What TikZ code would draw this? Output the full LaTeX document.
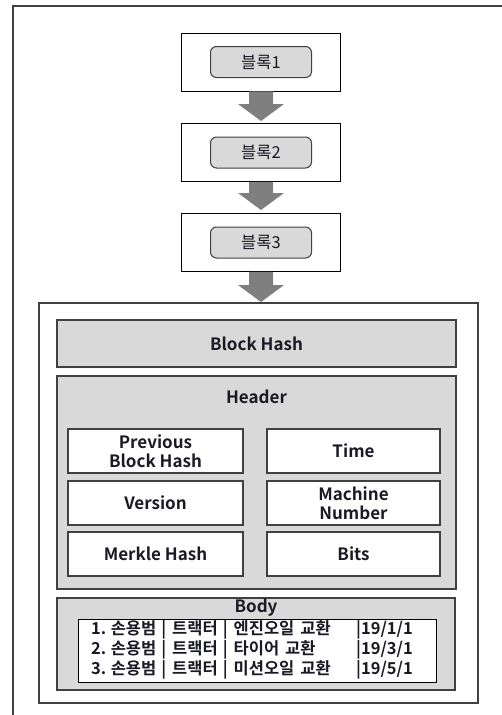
\documentclass[tikz,border=0pt]{standalone}
\usepackage{fontspec}
\setmainfont{Noto Sans CJK KR}[BoldFont={Noto Sans CJK KR Bold}]
\usetikzlibrary{calc}
\definecolor{boxgray}{HTML}{D9D9D9}
\definecolor{arrowgray}{HTML}{7F7F7F}
\definecolor{edgegray}{HTML}{404040}
\definecolor{txt}{HTML}{1A1A24}
\tikzset{
  blockbox/.style={draw=black, line width=0.9pt, fill=white, minimum width=159pt, minimum height=58pt, inner sep=0pt},
  tagbox/.style={draw=edgegray, line width=1pt, fill=boxgray, rounded corners=6pt, minimum width=101pt, minimum height=31pt, inner sep=0pt, font=\fontsize{16.5}{18}\selectfont, text=txt},
  graybox/.style={draw=edgegray, line width=1.3pt, fill=boxgray, inner sep=0pt},
  fieldbox/.style={draw=edgegray, line width=1.1pt, fill=white, minimum height=44pt, inner sep=0pt, align=center, font=\bfseries\fontsize{17}{19}\selectfont, text=txt},
  lbl/.style={font=\bfseries\fontsize{17}{18}\selectfont, text=txt, inner sep=0pt},
  fatarrow/.style={fill=arrowgray, draw=none}
}
\newcommand{\fatarr}[2]{%
  \fill[fatarrow] let \p1=(#1.south), \p2=(#2) in
    (\x1-12pt,\y1) -- (\x1+12pt,\y1) -- (\x1+12pt,\y2+17pt) -- (\x1+23pt,\y2+17pt)
    -- (\x1,\y2) -- (\x1-23pt,\y2+17pt) -- (\x1-12pt,\y2+17pt) -- cycle;}
\newcommand{\rowtxt}[2]{\makebox[265pt][l]{#1}#2}
\newcommand{\sepbar}{\hspace{5pt}|\hspace{6pt}}
\newcommand{\wsp}{\hspace{6pt}}
\newcommand{\nsp}{\hspace{4.5pt}}
\begin{document}
\begin{tikzpicture}[x=1pt,y=-1pt]
\useasboundingbox (0,0) rectangle (502,715);
% outer partial frame
\coordinate (fbl) at (13,715);
\coordinate (ftl) at (13,6);
\coordinate (ftr) at (502,6);
\draw[edgegray, line width=1.6pt] (fbl) -- (ftl) -- (ftr);

% chain of blocks
\node[blockbox] (b1) at (261,62) {};
\node[tagbox] (t1) at (b1.center) {블록1};
\node[blockbox] (b2) at (261,152.5) {};
\node[tagbox] (t2) at (b2.center) {블록2};
\node[blockbox] (b3) at (261,242.5) {};
\node[tagbox] (t3) at (b3.center) {블록3};

% big block
\node[draw=edgegray, line width=1.1pt, fill=white, minimum width=439pt, minimum height=400pt, inner sep=0pt] (big) at (258.5,503) {};

\coordinate (a1) at (261,121);
\coordinate (a2) at (261,210);
\coordinate (a3) at (261,302);
\fatarr{b1}{a1}
\fatarr{b2}{a2}
\fatarr{b3}{a3}

\node[graybox, minimum width=399pt, minimum height=47pt] (hash) at (256.5,343.5) {};
\node[lbl] at (hash.center) {Block Hash};

\node[graybox, minimum width=399pt, minimum height=213pt] (header) at (256.5,482.5) {};
\node[lbl] (headerlbl) at (256.5,397) {Header};

\node[fieldbox, minimum width=175pt] (prev) at (155.5,451) {Previous\\Block Hash};
\node[fieldbox, minimum width=173pt] (time) at (353.5,451) {Time};
\node[fieldbox, minimum width=175pt] (ver) at (155.5,503) {Version};
\node[fieldbox, minimum width=173pt] (mach) at (353.5,503) {Machine\\Number};
\node[fieldbox, minimum width=175pt] (merk) at (155.5,554) {Merkle Hash};
\node[fieldbox, minimum width=173pt] (bits) at (353.5,554) {Bits};

\node[graybox, minimum width=398pt, minimum height=92pt] (body) at (256,644) {};
\node[lbl] (bodylbl) at (256,608) {Body};
\node[draw=black, line width=1pt, fill=white, minimum width=358pt, minimum height=63pt, inner sep=0pt] (list) at (257,650.5) {};
\node[anchor=west, inner sep=0pt, text=txt, font=\bfseries\fontsize{16.5}{16.5}\selectfont, align=left] (listtxt) at (91,650)
 {\rowtxt{1.\nsp 손용범\sepbar 트랙터\sepbar 엔진오일\wsp 교환}{|19/1/1}\\
  \rowtxt{2.\nsp 손용범\sepbar 트랙터\sepbar 타이어\wsp 교환}{|19/3/1}\\
  \rowtxt{3.\nsp 손용범\sepbar 트랙터\sepbar 미션오일\wsp 교환}{|19/5/1}};
\end{tikzpicture}
\end{document}
